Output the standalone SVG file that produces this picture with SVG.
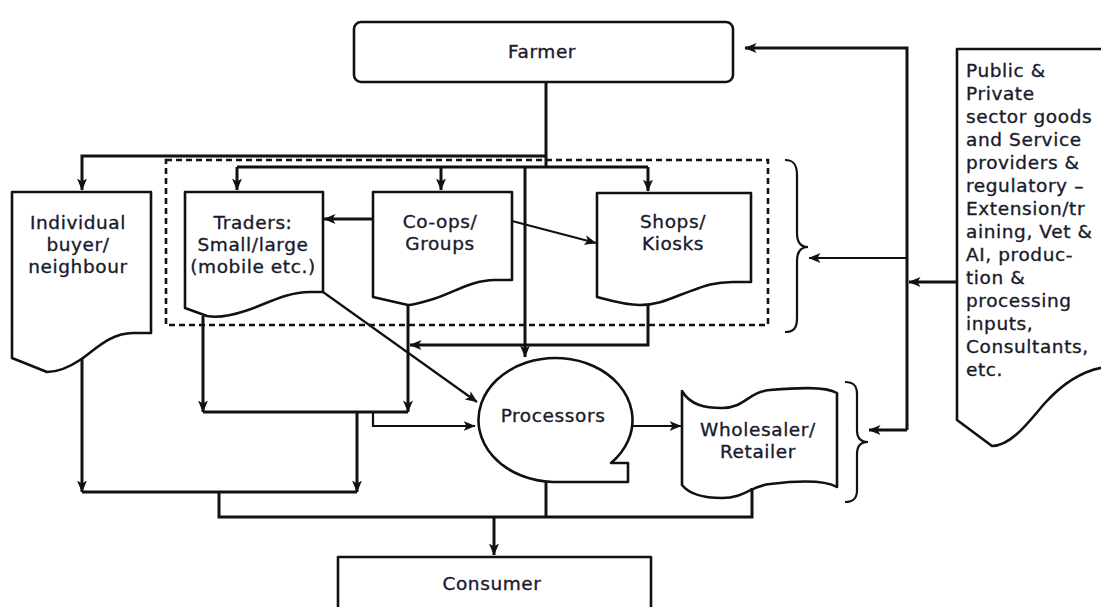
<svg xmlns="http://www.w3.org/2000/svg" width="1101" height="607" viewBox="0 0 1101 607">
<style>
.shape{fill:#fff;stroke:#111;stroke-width:2.6;stroke-linejoin:round}
.con{fill:none;stroke:#111;stroke-width:3}
.thin{fill:none;stroke:#111;stroke-width:2.2}
.lbl{font-family:"DejaVu Sans","Open Sans","Liberation Sans",sans-serif;font-size:18.5px;letter-spacing:0.6px;fill:#1a1a2c;stroke:#1a1a2c;stroke-width:0.35;text-anchor:middle}
.lft{font-family:"DejaVu Sans","Open Sans","Liberation Sans",sans-serif;font-size:18.5px;letter-spacing:0.6px;fill:#1a1a2c;stroke:#1a1a2c;stroke-width:0.35}
</style>
<defs>
<marker id="ah" viewBox="0 0 12 10" refX="11.5" refY="5" markerWidth="12" markerHeight="10" markerUnits="userSpaceOnUse" orient="auto">
<path d="M0,0 L12,5 L0,10 L3,5 Z" fill="#111"/>
</marker>
</defs>
<rect width="1101" height="607" fill="#fff"/>

<g id="group-box">
<rect x="166" y="160" width="602" height="165" fill="none" stroke="#111" stroke-width="2.6" stroke-dasharray="6 4"/>
</g>

<g id="farmer">
<rect class="shape" x="354" y="22" width="379" height="60" rx="7"/>
<text class="lbl" x="542" y="58">Farmer</text>
</g>

<g id="individual">
<path class="shape" d="M12,192 H151 V333 H133 C110,333 95,350 80,360 C68,368 58,372 47,372 L12,358 Z"/>
<text class="lbl" x="78" y="229">Individual</text>
<text class="lbl" x="78" y="251">buyer/</text>
<text class="lbl" x="78" y="273">neighbour</text>
</g>

<g id="traders">
<path class="shape" d="M185,192 H323 V292 H310 C285,292 265,305 245,311 C230,316 218,318 207,316 L185,308 Z"/>
<text class="lbl" x="253" y="229">Traders:</text>
<text class="lbl" x="253" y="251">Small/large</text>
<text class="lbl" x="253" y="273">(mobile etc.)</text>
</g>

<g id="coops">
<path class="shape" d="M373,192 H512 V280 H495 C470,280 450,295 430,300 C420,303 413,305 408,305 L373,297 Z"/>
<text class="lbl" x="440" y="228">Co-ops/</text>
<text class="lbl" x="440" y="250">Groups</text>
</g>

<g id="shops">
<path class="shape" d="M597,193 H751 V282 H733 C710,282 700,288 680,295 C665,301 655,305 640,305 C625,305 612,301 597,297 Z"/>
<text class="lbl" x="673" y="228">Shops/</text>
<text class="lbl" x="673" y="250">Kiosks</text>
</g>

<g id="processors">
<path class="shape" d="M628,482 H553 A77 62 0 1 1 611,463 H628 Z"/>
<text class="lbl" x="553" y="422">Processors</text>
</g>

<g id="wholesaler">
<path class="shape" d="M682,391 C690,405 705,408 722,408 C745,408 748,392 770,390 C795,388 825,386 837,393 V487 C825,480 795,481 770,484 C750,486 745,498 722,498 C705,498 690,495 682,485 Z"/>
<text class="lbl" x="758" y="436">Wholesaler/</text>
<text class="lbl" x="758" y="458">Retailer</text>
</g>

<g id="consumer">
<rect class="shape" x="338" y="557" width="313" height="60" stroke-width="3"/>
<text class="lbl" x="492" y="590">Consumer</text>
</g>

<g id="providers">
<path class="shape" d="M1106,49 H957 V420 L992,446 C1012,446 1030,420 1045,403 C1063,383 1083,370 1106,367 Z"/>
<text class="lft" x="966" y="77">Public &amp;</text>
<text class="lft" x="966" y="100">Private</text>
<text class="lft" x="966" y="123">sector goods</text>
<text class="lft" x="966" y="146">and Service</text>
<text class="lft" x="966" y="169">providers &amp;</text>
<text class="lft" x="966" y="192">regulatory –</text>
<text class="lft" x="966" y="215">Extension/tr</text>
<text class="lft" x="966" y="238">aining, Vet &amp;</text>
<text class="lft" x="966" y="261">AI, produc-</text>
<text class="lft" x="966" y="284">tion &amp;</text>
<text class="lft" x="966" y="307">processing</text>
<text class="lft" x="966" y="330">inputs,</text>
<text class="lft" x="966" y="353">Consultants,</text>
<text class="lft" x="966" y="376">etc.</text>
</g>

<g id="braces">
<path class="thin" d="M785,160 C794,160 797,165 797,175 L797,233 C797,242 800,247 808,247 C800,247 797,252 797,261 L797,318 C797,328 794,332 785,332"/>
<path class="thin" d="M845,382 C854,382 857,386 857,394 L857,430 C857,437 860,442 868,442 C860,442 857,447 857,454 L857,490 C857,498 854,502 845,502"/>
</g>

<g id="connectors">
<path class="con" d="M546,82 V167"/>
<path class="con" d="M546,156 H82 V190" marker-end="url(#ah)"/>
<path class="con" d="M237,167 H648"/>
<path class="con" d="M237,167 V190" marker-end="url(#ah)"/>
<path class="con" d="M441,167 V190" marker-end="url(#ah)"/>
<path class="con" d="M648,167 V191" marker-end="url(#ah)"/>
<path class="con" d="M525,167 V357" marker-end="url(#ah)"/>
<path class="con" d="M373,219 H324" marker-end="url(#ah)"/>
<path class="thin" d="M512,221 L596,243" marker-end="url(#ah)"/>
<path class="thin" d="M323,292 L477,402" marker-end="url(#ah)"/>
<path class="con" d="M203,316 V412" marker-end="url(#ah)"/>
<path class="con" d="M408,305 V412" marker-end="url(#ah)"/>
<path class="con" d="M203,412 H408"/>
<path class="con" d="M648,305 V345 H410" marker-end="url(#ah)"/>
<path class="con" d="M357,412 V492" marker-end="url(#ah)"/>
<path class="thin" d="M373,412 V426 H475" marker-end="url(#ah)"/>
<path class="con" d="M82,358 V492" marker-end="url(#ah)"/>
<path class="con" d="M82,492 H357"/>
<path class="con" d="M219,492 V517 H752 V488"/>
<path class="con" d="M546,482 V517"/>
<path class="con" d="M494,517 V555" marker-end="url(#ah)"/>
<path class="thin" d="M631,426 H681" marker-end="url(#ah)"/>
<path class="con" d="M957,282 H909" marker-end="url(#ah)"/>
<path class="con" d="M907,430 V48 H745" marker-end="url(#ah)"/>
<path class="thin" d="M907,258 H809" marker-end="url(#ah)"/>
<path class="con" d="M907,430 H869" marker-end="url(#ah)"/>
</g>
</svg>
